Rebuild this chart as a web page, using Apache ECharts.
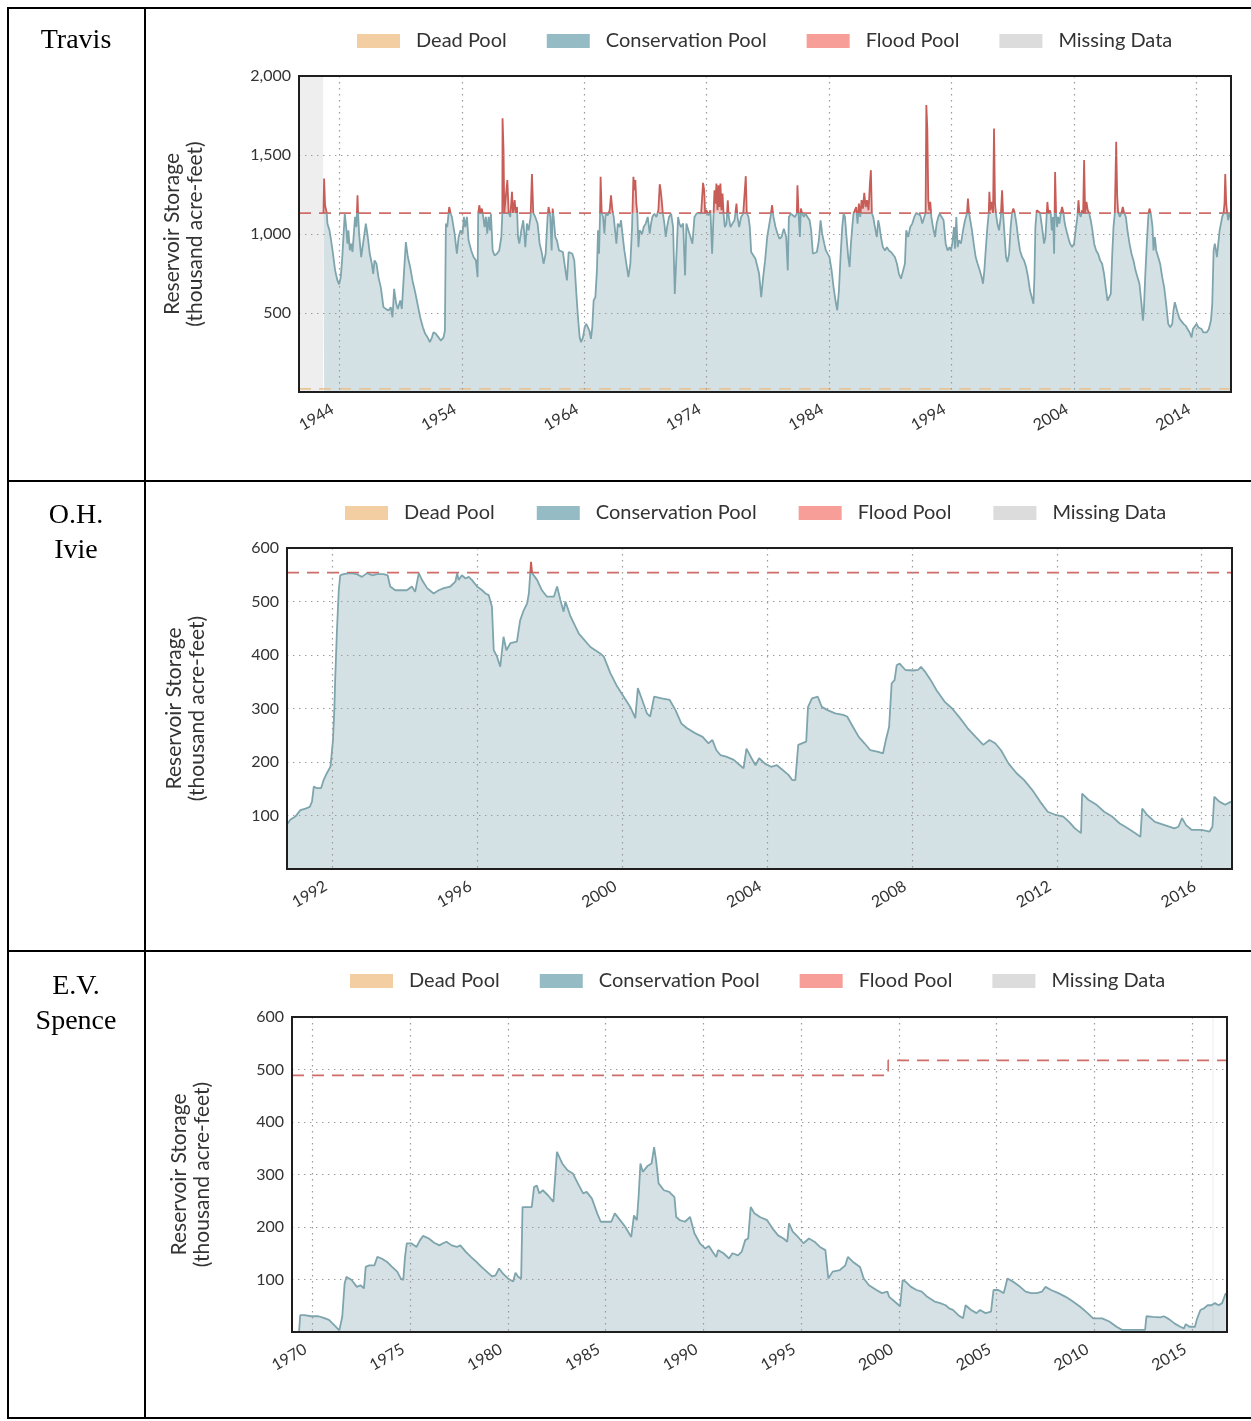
<!DOCTYPE html>
<html>
<head>
<meta charset="utf-8">
<title>Reservoir storage</title>
<script src="https://cdn.jsdelivr.net/npm/echarts@6/dist/echarts.min.js"></script>
<style>
  html, body { margin: 0; padding: 0; background: #fff; }
  #chart { width: 1251px; height: 1421px; }
</style>
</head>
<body>
<div id="chart"></div>
<script>
// legend entries shared by the three panels
const legendNames = ['Dead Pool', 'Conservation Pool', 'Flood Pool', 'Missing Data'];
const legendColors = ['#f2cea2', '#95bcc4', '#f69e97', '#dcdcdc'];

// ---- Travis ----
const travisTicks = [1944, 1954, 1964, 1974, 1984, 1994, 2004, 2014];
const travisRange = [1940.7, 2016.84];
const travisMissing = [1940.7, 1942.67];
const travisFloodLevel = 1132;
const travisDeadLevel = 20;
const travisYears = [
  1942.70, 1942.75, 1942.83, 1942.97, 1943.02, 1943.19, 1943.32, 1943.46, 1943.65, 1943.84,
  1943.98, 1944.11, 1944.22, 1944.33, 1944.44, 1944.55, 1944.66, 1944.74, 1944.85, 1944.96,
  1945.07, 1945.18, 1945.28, 1945.39, 1945.48, 1945.53, 1945.61, 1945.78, 1945.97, 1946.16,
  1946.32, 1946.48, 1946.65, 1946.76, 1946.87, 1947.03, 1947.19, 1947.38, 1947.60, 1947.79,
  1948.01, 1948.20, 1948.34, 1948.47, 1948.64, 1948.77, 1948.97, 1949.10, 1949.26, 1949.43,
  1949.59, 1949.78, 1949.97, 1950.19, 1950.38, 1950.60, 1950.82, 1951.01, 1951.20, 1951.39,
  1951.56, 1951.69, 1951.88, 1952.10, 1952.29, 1952.51, 1952.62, 1952.70, 1952.81, 1952.97,
  1953.08, 1953.19, 1953.41, 1953.60, 1953.74, 1953.90, 1954.06, 1954.17, 1954.28, 1954.42,
  1954.55, 1954.77, 1954.96, 1955.15, 1955.29, 1955.34, 1955.43, 1955.53, 1955.64, 1955.75,
  1955.86, 1955.97, 1956.08, 1956.19, 1956.30, 1956.38, 1956.52, 1956.68, 1956.87, 1957.06,
  1957.23, 1957.31, 1957.33, 1957.41, 1957.47, 1957.61, 1957.72, 1957.83, 1957.96, 1958.10,
  1958.18, 1958.32, 1958.40, 1958.51, 1958.59, 1958.70, 1958.86, 1959.02, 1959.19, 1959.32,
  1959.46, 1959.62, 1959.73, 1959.84, 1960.00, 1960.19, 1960.36, 1960.55, 1960.68, 1960.85,
  1961.01, 1961.09, 1961.23, 1961.34, 1961.42, 1961.50, 1961.64, 1961.77, 1961.94, 1962.10,
  1962.26, 1962.43, 1962.59, 1962.73, 1962.86, 1963.03, 1963.19, 1963.36, 1963.49, 1963.63,
  1963.74, 1963.90, 1964.04, 1964.17, 1964.28, 1964.42, 1964.55, 1964.66, 1964.77, 1964.91,
  1965.04, 1965.13, 1965.21, 1965.29, 1965.34, 1965.43, 1965.54, 1965.65, 1965.75, 1965.92,
  1966.08, 1966.19, 1966.30, 1966.41, 1966.52, 1966.63, 1966.74, 1966.90, 1967.01, 1967.12,
  1967.28, 1967.44, 1967.61, 1967.77, 1967.91, 1968.02, 1968.10, 1968.18, 1968.26, 1968.34,
  1968.43, 1968.53, 1968.73, 1968.86, 1969.02, 1969.19, 1969.35, 1969.46, 1969.57, 1969.73,
  1969.90, 1970.06, 1970.17, 1970.25, 1970.33, 1970.42, 1970.55, 1970.66, 1970.77, 1970.93,
  1971.10, 1971.26, 1971.40, 1971.53, 1971.67, 1971.78, 1971.91, 1972.08, 1972.24, 1972.35,
  1972.51, 1972.68, 1972.84, 1973.01, 1973.17, 1973.36, 1973.55, 1973.71, 1973.80, 1973.88,
  1973.99, 1974.15, 1974.31, 1974.45, 1974.53, 1974.64, 1974.72, 1974.80, 1974.89, 1974.97,
  1975.05, 1975.13, 1975.21, 1975.30, 1975.38, 1975.49, 1975.62, 1975.73, 1975.81, 1975.95,
  1976.11, 1976.28, 1976.44, 1976.52, 1976.66, 1976.82, 1976.99, 1977.12, 1977.20, 1977.28,
  1977.42, 1977.53, 1977.64, 1977.80, 1977.99, 1978.13, 1978.29, 1978.46, 1978.62, 1978.78,
  1978.95, 1979.22, 1979.35, 1979.46, 1979.63, 1979.79, 1979.95, 1980.12, 1980.31, 1980.50,
  1980.63, 1980.72, 1980.88, 1981.04, 1981.21, 1981.37, 1981.42, 1981.51, 1981.62, 1981.70,
  1981.81, 1981.94, 1982.08, 1982.24, 1982.41, 1982.54, 1982.68, 1982.84, 1983.01, 1983.17,
  1983.31, 1983.44, 1983.61, 1983.74, 1983.88, 1984.04, 1984.21, 1984.37, 1984.53, 1984.67,
  1984.81, 1984.94, 1985.08, 1985.19, 1985.30, 1985.43, 1985.57, 1985.68, 1985.79, 1985.90,
  1986.00, 1986.11, 1986.22, 1986.33, 1986.44, 1986.55, 1986.66, 1986.77, 1986.88, 1986.99,
  1987.10, 1987.23, 1987.34, 1987.42, 1987.50, 1987.61, 1987.75, 1987.91, 1988.02, 1988.13,
  1988.24, 1988.40, 1988.57, 1988.73, 1988.89, 1989.06, 1989.22, 1989.38, 1989.55, 1989.71,
  1989.88, 1990.04, 1990.20, 1990.31, 1990.47, 1990.64, 1990.80, 1990.97, 1991.13, 1991.29,
  1991.46, 1991.62, 1991.78, 1991.89, 1991.95, 1992.03, 1992.11, 1992.19, 1992.27, 1992.36,
  1992.49, 1992.66, 1992.79, 1992.93, 1993.04, 1993.20, 1993.36, 1993.53, 1993.69, 1993.85,
  1993.96, 1994.07, 1994.21, 1994.29, 1994.40, 1994.51, 1994.62, 1994.78, 1994.95, 1995.11,
  1995.27, 1995.35, 1995.44, 1995.54, 1995.68, 1995.82, 1995.98, 1996.14, 1996.31, 1996.47,
  1996.58, 1996.69, 1996.80, 1996.94, 1997.05, 1997.10, 1997.18, 1997.29, 1997.40, 1997.48,
  1997.56, 1997.64, 1997.75, 1997.89, 1998.03, 1998.14, 1998.22, 1998.35, 1998.46, 1998.57,
  1998.71, 1998.84, 1998.95, 1999.06, 1999.17, 1999.31, 1999.44, 1999.60, 1999.77, 1999.93,
  2000.10, 2000.26, 2000.42, 2000.56, 2000.70, 2000.78, 2000.86, 2000.97, 2001.08, 2001.24,
  2001.40, 2001.57, 2001.68, 2001.79, 2001.84, 2001.92, 2002.03, 2002.11, 2002.20, 2002.30,
  2002.39, 2002.47, 2002.55, 2002.63, 2002.71, 2002.82, 2002.93, 2003.04, 2003.15, 2003.26,
  2003.39, 2003.53, 2003.69, 2003.86, 2004.02, 2004.18, 2004.29, 2004.38, 2004.46, 2004.57,
  2004.68, 2004.76, 2004.84, 2004.92, 2005.03, 2005.14, 2005.25, 2005.38, 2005.52, 2005.66,
  2005.82, 2005.98, 2006.15, 2006.31, 2006.47, 2006.64, 2006.75, 2006.91, 2007.02, 2007.13,
  2007.24, 2007.35, 2007.46, 2007.54, 2007.62, 2007.76, 2007.89, 2008.00, 2008.11, 2008.25,
  2008.38, 2008.55, 2008.71, 2008.87, 2009.04, 2009.20, 2009.36, 2009.53, 2009.64, 2009.72,
  2009.83, 2009.96, 2010.10, 2010.18, 2010.29, 2010.43, 2010.51, 2010.62, 2010.73, 2010.89,
  2011.05, 2011.22, 2011.38, 2011.54, 2011.71, 2011.87, 2012.04, 2012.14, 2012.25, 2012.36,
  2012.47, 2012.64, 2012.80, 2012.96, 2013.13, 2013.29, 2013.45, 2013.62, 2013.73, 2013.89,
  2014.03, 2014.16, 2014.30, 2014.43, 2014.57, 2014.73, 2014.87, 2015.03, 2015.20, 2015.31,
  2015.42, 2015.52, 2015.61, 2015.69, 2015.80, 2015.91, 2016.02, 2016.12, 2016.23, 2016.31,
  2016.37, 2016.45, 2016.53, 2016.61, 2016.72, 2016.83,
];
const travisStorage = [
  1133, 1351, 1182, 1133, 1066, 1023, 960, 886, 770, 706,
  681, 727, 833, 981, 1129, 1044, 939, 1023, 896, 939,
  886, 1002, 1108, 1044, 1245, 1129, 1002, 854, 960, 1066,
  981, 875, 812, 748, 833, 812, 727, 664, 537, 526,
  516, 537, 473, 653, 558, 526, 579, 526, 537, 949,
  854, 791, 706, 632, 558, 473, 410, 368, 346, 315,
  346, 378, 368, 346, 325, 346, 389, 1066, 1044, 1171,
  1133, 1108, 1002, 875, 981, 1023, 1002, 1108, 1044, 1108,
  960, 896, 854, 833, 727, 1129, 1182, 1133, 1161, 1108,
  1044, 1108, 1002, 1108, 1023, 1129, 896, 864, 875, 896,
  981, 1129, 1732, 1531, 1133, 1133, 1341, 1133, 1108, 1267,
  1133, 1214, 1133, 1171, 981, 939, 1023, 1087, 917, 1066,
  1023, 1108, 1379, 1133, 1108, 1066, 939, 875, 812, 875,
  1108, 1171, 1108, 896, 1161, 1108, 981, 960, 896, 907,
  886, 791, 706, 886, 896, 875, 833, 621, 473, 346,
  315, 346, 410, 431, 431, 389, 336, 410, 579, 600,
  770, 1023, 875, 1108, 1362, 1133, 1108, 1002, 1129, 1118,
  1150, 1245, 1150, 1108, 1023, 939, 1066, 1044, 1087, 1002,
  896, 812, 727, 812, 1044, 1362, 1277, 1341, 1192, 1133,
  917, 1023, 1002, 1044, 1066, 1108, 1002, 1066, 1108, 1129,
  1108, 1150, 1315, 1277, 1214, 1133, 1066, 981, 1044, 1108,
  1129, 1044, 621, 854, 1108, 1066, 1044, 1066, 738, 1066,
  1023, 981, 939, 1108, 1129, 1133, 1129, 1324, 1277, 1133,
  1150, 1118, 1150, 875, 1044, 1277, 1192, 1319, 1150, 1309,
  1171, 1319, 1150, 1256, 1133, 1044, 1066, 1214, 1108, 1044,
  1066, 1087, 1192, 1108, 1044, 1108, 1129, 1133, 1366, 1133,
  1108, 1044, 886, 875, 843, 833, 748, 600, 727, 833,
  981, 1108, 1182, 1108, 1044, 1002, 970, 981, 1034, 981,
  770, 1108, 1129, 1133, 1108, 1129, 1309, 1133, 981, 1161,
  1129, 1108, 1129, 1108, 1087, 1023, 875, 864, 886, 960,
  1087, 1002, 939, 896, 896, 854, 770, 664, 579, 516,
  642, 854, 1044, 1129, 1108, 981, 854, 791, 939, 1044,
  1129, 1150, 1171, 1066, 1192, 1108, 1214, 1161, 1260, 1171,
  1214, 1150, 1319, 1404, 1133, 1108, 1044, 981, 1087, 1044,
  981, 917, 896, 917, 896, 886, 875, 854, 812, 748,
  717, 723, 812, 1023, 981, 1044, 1066, 1108, 1133, 1129,
  1118, 1066, 1108, 1133, 1816, 1668, 1214, 1150, 1203, 1108,
  1044, 981, 1066, 1108, 1129, 1108, 1087, 939, 896, 917,
  896, 939, 1044, 907, 1108, 917, 960, 939, 1023, 1087,
  1129, 1224, 1133, 1087, 1023, 939, 854, 812, 770, 727,
  685, 770, 896, 1044, 1133, 1267, 1150, 1203, 1133, 1668,
  1192, 1129, 1066, 1023, 1108, 1277, 1129, 981, 854, 822,
  875, 1044, 1133, 1161, 1133, 1066, 981, 896, 854, 833,
  791, 727, 642, 600, 558, 727, 1044, 1150, 1161, 1133,
  1044, 939, 981, 1133, 1203, 1133, 1150, 1133, 1023, 1108,
  875, 1393, 1133, 1044, 1108, 1066, 1129, 1171, 1133, 1066,
  1023, 981, 939, 917, 939, 1044, 1108, 1214, 1129, 1108,
  1150, 1133, 1468, 1133, 1203, 1150, 1133, 1087, 1023, 939,
  896, 875, 833, 812, 748, 642, 579, 579, 621, 854,
  1044, 1133, 1584, 1245, 1133, 1108, 1133, 1171, 1133, 1108,
  1023, 939, 875, 833, 770, 727, 685, 558, 452, 516,
  727, 939, 1129, 1161, 1129, 1044, 896, 981, 896, 854,
  812, 727, 664, 558, 431, 410, 431, 516, 568, 537,
  505, 463, 452, 431, 420, 399, 378, 346, 399, 410,
  431, 410, 420, 399, 378, 368, 378, 399, 452, 558,
  896, 939, 896, 854, 939, 1023, 1066, 1108, 1129, 1192,
  1379, 1192, 1133, 1087, 1129, 1108,
];

// ---- O.H. Ivie ----
const ivieTicks = [1992, 1996, 2000, 2004, 2008, 2012, 2016];
const ivieRange = [1990.74, 2016.84];
const ivieFloodLevel = 554;
const ivieYears = [
  1990.76, 1990.83, 1990.97, 1991.11, 1991.25, 1991.37, 1991.43, 1991.48, 1991.57, 1991.68,
  1991.75, 1991.84, 1991.94, 1991.98, 1992.01, 1992.05, 1992.07, 1992.12, 1992.17, 1992.21,
  1992.30, 1992.49, 1992.67, 1992.81, 1992.95, 1993.09, 1993.23, 1993.41, 1993.52, 1993.59,
  1993.73, 1993.87, 1994.05, 1994.19, 1994.28, 1994.38, 1994.47, 1994.61, 1994.79, 1994.93,
  1995.07, 1995.25, 1995.39, 1995.44, 1995.48, 1995.57, 1995.67, 1995.76, 1995.85, 1995.99,
  1996.13, 1996.22, 1996.31, 1996.36, 1996.40, 1996.45, 1996.54, 1996.63, 1996.72, 1996.80,
  1996.91, 1997.09, 1997.18, 1997.28, 1997.37, 1997.42, 1997.48, 1997.51, 1997.65, 1997.78,
  1997.92, 1998.11, 1998.20, 1998.29, 1998.38, 1998.43, 1998.57, 1998.80, 1999.12, 1999.39,
  1999.49, 1999.67, 1999.86, 2000.04, 2000.22, 2000.36, 2000.43, 2000.55, 2000.68, 2000.77,
  2000.88, 2001.09, 2001.31, 2001.47, 2001.63, 2001.79, 2002.01, 2002.22, 2002.38, 2002.49,
  2002.60, 2002.71, 2002.87, 2003.08, 2003.25, 2003.35, 2003.43, 2003.57, 2003.68, 2003.78,
  2003.94, 2004.11, 2004.27, 2004.43, 2004.59, 2004.70, 2004.78, 2004.86, 2005.08, 2005.13,
  2005.24, 2005.40, 2005.51, 2005.67, 2005.88, 2006.10, 2006.21, 2006.37, 2006.53, 2006.69,
  2006.85, 2007.07, 2007.20, 2007.28, 2007.37, 2007.44, 2007.52, 2007.58, 2007.66, 2007.82,
  2008.04, 2008.17, 2008.25, 2008.36, 2008.52, 2008.68, 2008.90, 2009.11, 2009.33, 2009.54,
  2009.76, 2009.97, 2010.14, 2010.30, 2010.46, 2010.67, 2010.89, 2011.10, 2011.32, 2011.54,
  2011.75, 2011.97, 2012.18, 2012.34, 2012.50, 2012.67, 2012.70, 2012.88, 2013.10, 2013.31,
  2013.53, 2013.74, 2013.96, 2014.17, 2014.31, 2014.36, 2014.50, 2014.71, 2014.98, 2015.25,
  2015.36, 2015.46, 2015.57, 2015.73, 2016.00, 2016.22, 2016.30, 2016.35, 2016.49, 2016.65,
  2016.81,
];
const ivieStorage = [
  85, 92, 98, 110, 113, 116, 126, 154, 151, 151,
  166, 179, 191, 191, 241, 303, 353, 447, 521, 549,
  551, 553, 551, 546, 553, 549, 551, 551, 549, 528,
  521, 521, 521, 528, 518, 553, 540, 525, 515, 521,
  525, 528, 537, 553, 540, 549, 543, 546, 540, 528,
  521, 515, 512, 515, 490, 409, 397, 378, 434, 409,
  422, 425, 465, 484, 496, 515, 574, 553, 540, 521,
  509, 509, 528, 503, 481, 500, 472, 440, 415, 403,
  397, 366, 341, 322, 303, 282, 338, 316, 291, 285,
  322, 319, 316, 297, 272, 263, 254, 247, 235, 241,
  222, 213, 210, 204, 194, 188, 225, 207, 194, 207,
  197, 191, 194, 185, 176, 166, 166, 232, 238, 303,
  319, 322, 303, 297, 291, 288, 285, 266, 247, 235,
  222, 219, 216, 241, 266, 347, 353, 381, 384, 372,
  371, 372, 378, 369, 353, 334, 313, 300, 282, 263,
  247, 232, 241, 235, 222, 197, 179, 166, 148, 126,
  107, 101, 98, 88, 76, 67, 141, 129, 120, 107,
  98, 85, 76, 67, 60, 113, 101, 88, 82, 76,
  79, 95, 82, 73, 73, 70, 79, 135, 126, 120,
  126,
];

// ---- E.V. Spence ----
const spenceTicks = [1970, 1975, 1980, 1985, 1990, 1995, 2000, 2005, 2010, 2015];
const spenceRange = [1968.96, 2016.78];
const spenceMissing = [2016.02, 2016.1];
const spenceFloodYears = [1968.96, 1999.45, 1999.45, 2016.78];
const spenceFloodLevels = [488.8, 488.8, 517.3, 517.3];
const spenceYears = [
  1969.32, 1969.38, 1969.59, 1969.95, 1970.31, 1970.58, 1970.85, 1971.12, 1971.38, 1971.47,
  1971.53, 1971.65, 1971.74, 1972.01, 1972.28, 1972.46, 1972.64, 1972.73, 1972.91, 1973.18,
  1973.32, 1973.54, 1973.81, 1974.08, 1974.34, 1974.52, 1974.65, 1974.74, 1974.83, 1975.06,
  1975.33, 1975.51, 1975.66, 1975.96, 1976.23, 1976.50, 1976.68, 1976.86, 1977.13, 1977.39,
  1977.57, 1977.84, 1978.11, 1978.38, 1978.65, 1978.92, 1979.19, 1979.37, 1979.55, 1979.73,
  1980.00, 1980.27, 1980.39, 1980.53, 1980.68, 1980.75, 1980.98, 1981.22, 1981.34, 1981.48,
  1981.61, 1981.79, 1982.06, 1982.33, 1982.51, 1982.78, 1983.05, 1983.32, 1983.58, 1983.85,
  1984.03, 1984.30, 1984.57, 1984.75, 1985.02, 1985.29, 1985.47, 1985.74, 1986.01, 1986.31,
  1986.45, 1986.60, 1986.69, 1986.78, 1986.90, 1987.14, 1987.35, 1987.48, 1987.58, 1987.71,
  1987.98, 1988.25, 1988.52, 1988.61, 1988.79, 1989.06, 1989.32, 1989.54, 1989.82, 1990.10,
  1990.28, 1990.47, 1990.66, 1990.75, 1991.03, 1991.31, 1991.49, 1991.77, 1991.96, 1992.14,
  1992.29, 1992.42, 1992.61, 1992.89, 1993.26, 1993.54, 1993.82, 1994.10, 1994.29, 1994.38,
  1994.57, 1994.84, 1995.12, 1995.40, 1995.68, 1995.96, 1996.24, 1996.39, 1996.61, 1996.98,
  1997.26, 1997.39, 1997.64, 1998.01, 1998.20, 1998.47, 1998.85, 1999.13, 1999.41, 1999.50,
  1999.78, 2000.06, 2000.19, 2000.34, 2000.62, 2000.90, 2001.17, 2001.45, 2001.83, 2002.11,
  2002.39, 2002.57, 2002.76, 2003.04, 2003.28, 2003.41, 2003.69, 2003.97, 2004.15, 2004.43,
  2004.71, 2004.84, 2005.08, 2005.36, 2005.55, 2005.83, 2006.20, 2006.48, 2006.76, 2007.04,
  2007.32, 2007.50, 2007.78, 2008.16, 2008.53, 2008.90, 2009.27, 2009.65, 2009.93, 2010.39,
  2010.76, 2011.13, 2011.41, 2011.88, 2012.59, 2012.66, 2012.99, 2013.37, 2013.55, 2013.83,
  2014.11, 2014.39, 2014.58, 2014.67, 2014.86, 2015.14, 2015.23, 2015.42, 2015.60, 2015.79,
  2015.98, 2016.16, 2016.35, 2016.53, 2016.72,
];
const spenceStorage = [
  0, 32, 32, 30, 30, 27, 23, 13, 3, 0,
  29, 92, 105, 99, 86, 89, 83, 124, 127, 127,
  143, 140, 134, 124, 115, 102, 99, 143, 169, 169,
  162, 175, 183, 178, 170, 165, 169, 172, 165, 162,
  165, 153, 143, 134, 124, 115, 106, 108, 121, 112,
  102, 96, 113, 105, 102, 238, 238, 238, 276, 279,
  264, 270, 260, 248, 343, 321, 308, 302, 283, 264,
  267, 254, 226, 210, 210, 210, 226, 213, 200, 181,
  222, 213, 260, 321, 305, 316, 321, 352, 327, 283,
  270, 267, 257, 219, 213, 210, 219, 188, 169, 159,
  164, 153, 143, 156, 150, 140, 150, 146, 153, 175,
  178, 238, 226, 219, 213, 197, 184, 178, 172, 207,
  191, 181, 169, 178, 172, 162, 156, 102, 115, 118,
  127, 143, 134, 124, 102, 89, 80, 74, 77, 67,
  58, 49, 99, 96, 86, 80, 77, 67, 58, 55,
  51, 45, 42, 32, 26, 51, 42, 36, 42, 36,
  39, 80, 80, 74, 102, 96, 86, 77, 74, 74,
  77, 86, 80, 74, 67, 58, 48, 36, 26, 26,
  20, 10, 4, 4, 4, 30, 29, 28, 30, 24,
  16, 10, 7, 15, 10, 10, 23, 42, 45, 51,
  51, 55, 51, 55, 74,
];

const FONT = 'Lato, "Open Sans", sans-serif';
const TEXT_COLOR = '#333333';
const CONS_LINE = '#7ea5ad';
const FLOOD_LINE = '#c85d58';
const FLOOD_DASH = '#d06c68';
const DEAD_DASH = '#e8c597';
const MISSING_FILL = '#eeeeee';
const GRID_DOTS = { color: '#9a9a9a', width: 1.2, type: [1.4, 4.6] };

const chart = echarts.init(document.getElementById('chart'));

function zip(xs, ys) {
  return xs.map((x, i) => [x, ys[i]]);
}

function formatStorage(value) {
  if (value === 0) {
    return '';
  }
  return value >= 1000
    ? `${Math.floor(value / 1000)},${String(value % 1000).padStart(3, '0')}`
    : String(value);
}

function makeGrid(left, top, width, height) {
  return {
    left, top, width, height,
    show: true,
    borderColor: '#1e1e1e',
    borderWidth: 2,
    backgroundColor: 'transparent',
    z: 6,
  };
}

function makeXAxis(gridIndex, range, ticks) {
  return {
    type: 'value',
    gridIndex,
    min: range[0],
    max: range[1],
    axisLine: { show: true, lineStyle: { color: '#1e1e1e', width: 2 } },
    axisTick: { show: false, customValues: ticks },
    axisLabel: {
      customValues: ticks,
      rotate: 30,
      margin: 12,
      padding: [0, 8, 0, 0],
      fontSize: 16,
      fontFamily: FONT,
      color: TEXT_COLOR,
      formatter: (v) => String(v),
    },
    splitLine: { show: true, lineStyle: GRID_DOTS },
    z: 5,
  };
}

function makeYAxis(gridIndex, max, interval, nameGap) {
  return {
    type: 'value',
    gridIndex,
    min: 0,
    max,
    interval,
    name: 'Reservoir Storage\n(thousand acre-feet)',
    nameLocation: 'middle',
    nameRotate: 90,
    nameGap,
    nameTextStyle: { fontSize: 21, lineHeight: 23, fontFamily: FONT, color: TEXT_COLOR },
    axisLine: { show: true, lineStyle: { color: '#1e1e1e', width: 2 } },
    axisTick: { show: false },
    axisLabel: { margin: 8, fontSize: 16, fontFamily: FONT, color: TEXT_COLOR, formatter: formatStorage },
    splitLine: { show: true, lineStyle: GRID_DOTS },
    z: 5,
  };
}

function makeLegend(top, left, itemGap) {
  return {
    top,
    left,
    padding: 0,
    icon: 'rect',
    itemWidth: 43,
    itemHeight: 14,
    itemGap,
    selectedMode: false,
    data: legendNames.map((name, i) => ({
      name,
      itemStyle: { color: legendColors[i], borderWidth: 0 },
    })),
    textStyle: { fontSize: 20, fontFamily: FONT, color: TEXT_COLOR, padding: [0, 0, 0, 11] },
  };
}

// piecewise colouring: teal up to the top of conservation, red above it
function poolVisualMap(seriesIndex, floodLevel, axisMax) {
  return {
    type: 'piecewise',
    show: false,
    seriesIndex,
    dimension: 1,
    pieces: [
      { gte: 0, lte: floodLevel, color: CONS_LINE },
      { gt: floodLevel, lte: axisMax, color: FLOOD_LINE },
    ],
  };
}

function missingSeries(axisIndex, span, color) {
  return {
    name: 'Missing Data',
    type: 'line',
    xAxisIndex: axisIndex,
    yAxisIndex: axisIndex,
    data: [],
    silent: true,
    z: 1,
    markArea: {
      silent: true,
      itemStyle: { color },
      data: [[{ xAxis: span[0] }, { xAxis: span[1] }]],
    },
  };
}

function dashedSeries(name, axisIndex, data, color) {
  return {
    name,
    type: 'line',
    xAxisIndex: axisIndex,
    yAxisIndex: axisIndex,
    data,
    symbol: 'none',
    silent: true,
    itemStyle: { color },
    lineStyle: { color, width: 1.6, type: [12, 8] },
    z: name === 'Dead Pool' ? 4 : 1,
  };
}

function storageSeries(axisIndex, data) {
  return {
    name: 'Conservation Pool',
    type: 'line',
    xAxisIndex: axisIndex,
    yAxisIndex: axisIndex,
    data,
    symbol: 'none',
    showSymbol: false,
    silent: true,
    itemStyle: { color: CONS_LINE },
    lineStyle: { width: 1.8 },
    areaStyle: { opacity: 0.33 },
    z: 2,
  };
}

const rowNames = [
  { text: 'Travis', y: 41 },
  { text: 'O.H.\nIvie', y: 533 },
  { text: 'E.V.\nSpence', y: 1004 },
];

const tableRules = [
  [7, 8, 1251, 8],
  [8, 7, 8, 1419],
  [7, 1418, 1251, 1418],
  [145, 8, 145, 1418],
  [8, 481, 1251, 481],
  [8, 951, 1251, 951],
];

const option = {
  animation: false,
  backgroundColor: '#ffffff',
  grid: [
    makeGrid(299, 76, 932, 316),
    makeGrid(287, 548, 945, 321),
    makeGrid(292, 1017, 935, 315),
  ],
  xAxis: [
    makeXAxis(0, travisRange, travisTicks),
    makeXAxis(1, ivieRange, ivieTicks),
    makeXAxis(2, spenceRange, spenceTicks),
  ],
  yAxis: [
    makeYAxis(0, 2000, 500, 92),
    makeYAxis(1, 600, 100, 78),
    makeYAxis(2, 600, 100, 78),
  ],
  legend: [makeLegend(31, 357, 40), makeLegend(503, 345, 42), makeLegend(971, 350, 40)],
  visualMap: [
    poolVisualMap(3, travisFloodLevel, 2000),
    poolVisualMap(5, ivieFloodLevel, 600),
  ],
  series: [
    missingSeries(0, travisMissing, MISSING_FILL),
    dashedSeries('Dead Pool', 0, [[travisRange[0], travisDeadLevel], [travisRange[1], travisDeadLevel]], DEAD_DASH),
    dashedSeries('Flood Pool', 0, [[travisRange[0], travisFloodLevel], [travisRange[1], travisFloodLevel]], FLOOD_DASH),
    storageSeries(0, zip(travisYears, travisStorage)),
    dashedSeries('Flood Pool', 1, [[ivieRange[0], ivieFloodLevel], [ivieRange[1], ivieFloodLevel]], FLOOD_DASH),
    storageSeries(1, zip(ivieYears, ivieStorage)),
    dashedSeries('Flood Pool', 2, zip(spenceFloodYears, spenceFloodLevels), FLOOD_DASH),
    storageSeries(2, zip(spenceYears, spenceStorage)),
    missingSeries(2, spenceMissing, '#f4f4f4'),
  ],
  graphic: [
    ...tableRules.map(([x1, y1, x2, y2]) => ({
      type: 'line',
      silent: true,
      shape: { x1, y1, x2, y2 },
      style: { stroke: '#000', lineWidth: 2 },
    })),
    ...rowNames.map((row) => ({
      type: 'text',
      silent: true,
      x: 76,
      y: row.y,
      style: {
        text: row.text,
        fontSize: 28,
        lineHeight: 35,
        fontFamily: '"Liberation Serif", "DejaVu Serif", serif',
        fill: '#000',
        align: 'center',
        verticalAlign: 'middle',
      },
    })),
  ],
};

chart.setOption(option);
</script>
</body>
</html>
